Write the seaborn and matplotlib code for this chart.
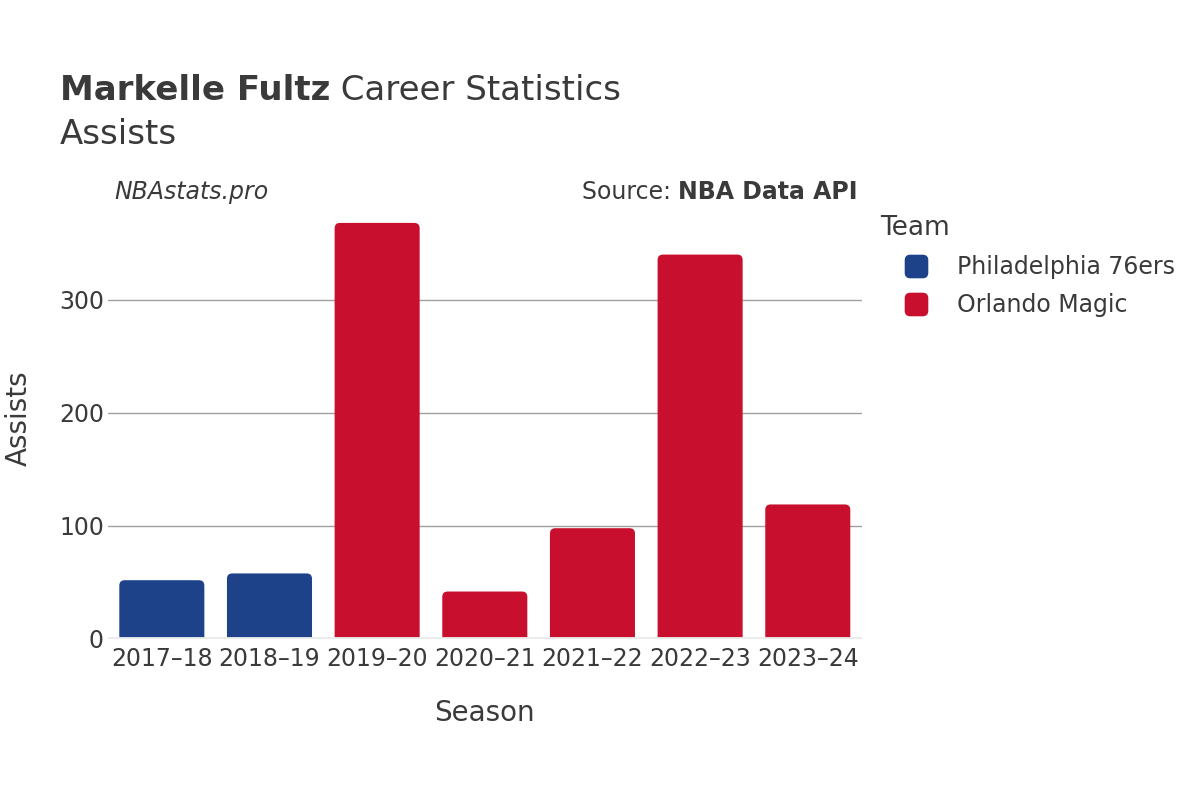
import matplotlib
matplotlib.use("Agg")
import matplotlib.pyplot as plt
from matplotlib.patches import FancyBboxPatch
from matplotlib.lines import Line2D
import pandas as pd
import seaborn as sns

# data
seasons = ["2017–18", "2018–19", "2019–20", "2020–21", "2021–22", "2022–23", "2023–24"]
teams = ["Philadelphia 76ers", "Philadelphia 76ers", "Orlando Magic", "Orlando Magic",
         "Orlando Magic", "Orlando Magic", "Orlando Magic"]
assists = [52, 58, 368, 42, 98, 340, 119]
team_colors = {"Philadelphia 76ers": "#1d428a", "Orlando Magic": "#c8102e"}

df = pd.DataFrame({"Season": seasons, "Team": teams, "Assists": assists})

sns.set_theme(style="white")
plt.rcParams['font.family'] = ['DejaVu Sans']
txt = "#3a3a3a"

fig = plt.figure(figsize=(12, 8), dpi=100)
ax = fig.add_axes([0.09, 0.20125, 0.628, 0.53])

sns.barplot(data=df, x="Season", y="Assists", hue="Team", palette=team_colors,
            dodge=False, width=0.79, saturation=1, legend=False, ax=ax)
ax.set_ylim(0, 375)
ax.set_xlim(-0.5, len(seasons) - 0.5)

# swap plain bars for rounded ones
aspect = (375 / 424) / (7 / 754)
for p in list(ax.patches):
    x, y, w, h = p.get_x(), p.get_y(), p.get_width(), p.get_height()
    fc = p.get_facecolor()
    p.remove()
    ax.add_patch(FancyBboxPatch((x, y - 8), w, h + 8,
                                boxstyle="round,pad=0,rounding_size=0.05",
                                mutation_aspect=aspect, fc=fc, ec="none", zorder=2))

ax.set_yticks([0, 100, 200, 300])
ax.grid(axis="y", color="#a0a0a0", lw=1)
ax.grid(axis="x", visible=False)
ax.set_axisbelow(True)
ax.axhline(0, color="#ebebeb", lw=3.5, zorder=3)
for s in ax.spines.values():
    s.set_visible(False)
ax.tick_params(length=0, labelsize=17, labelcolor=txt)
ax.tick_params(axis="x", pad=6)
ax.tick_params(axis="y", pad=3)

ax.set_xlabel("Season", fontsize=20, color=txt)
ax.set_ylabel("Assists", fontsize=20, color=txt)
ax.xaxis.set_label_coords(0.5, -0.142)
ax.yaxis.set_label_coords(-0.10, 0.52)

# titles
r = fig.canvas.get_renderer()
t1 = fig.text(0.05, 1 - 100 / 800, "Markelle Fultz", fontsize=24.5, fontweight="bold", color=txt, va="baseline")
bb = t1.get_window_extent(r)
fig.text(bb.x1 / 1200, 1 - 100 / 800, " Career Statistics", fontsize=24.5, color=txt, va="baseline")
fig.text(0.05, 1 - 144 / 800, "Assists", fontsize=24.5, color=txt, va="baseline")

fig.text(114 / 1200, 1 - 199 / 800, "NBAstats.pro", fontsize=17, style="italic", color=txt, va="baseline")
t2 = fig.text(858 / 1200, 1 - 199 / 800, "NBA Data API", fontsize=17, fontweight="bold", color=txt,
              va="baseline", ha="right")
bb2 = t2.get_window_extent(r)
fig.text(bb2.x0 / 1200, 1 - 199 / 800, "Source: ", fontsize=17, color=txt, va="baseline", ha="right")

# legend with rounded square markers
rsq = FancyBboxPatch((-0.5, -0.5), 1, 1, boxstyle="round,pad=0,rounding_size=0.22").get_path()
handles = [Line2D([], [], marker=rsq, ls="none", ms=16, color=team_colors[t]) for t in team_colors]
leg = fig.legend(handles, list(team_colors), title="Team", loc="upper left",
                 bbox_to_anchor=(0.718, 0.755), frameon=False, fontsize=17, title_fontsize=19,
                 alignment="left", handlelength=3.0, handletextpad=0.25, labelspacing=0.6,
                 borderpad=0.3)
for t in leg.get_texts():
    t.set_color(txt)
leg.get_title().set_color(txt)

fig.savefig("out.png", dpi=100)
